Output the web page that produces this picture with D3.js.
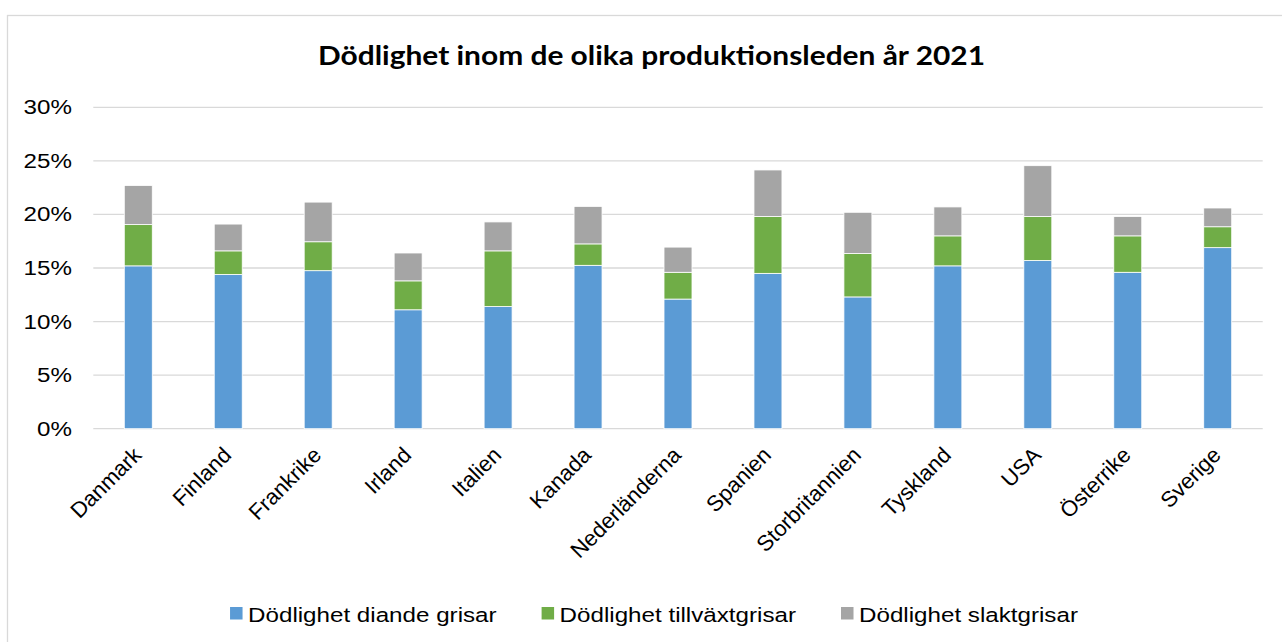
<!DOCTYPE html>
<html lang="sv">
<head>
  <meta charset="UTF-8">
  <title>Dödlighet inom de olika produktionsleden år 2021</title>
  <script src="https://d3js.org/d3.v7.min.js"></script>
  <style>
    body { margin: 0; background: #fff; }
    text { font-family: "Liberation Sans", Arial, sans-serif; fill: #000; }
  </style>
</head>
<body>
<script>
  // Data (percent)
  const countries = ['Danmark', 'Finland', 'Frankrike', 'Irland', 'Italien', 'Kanada', 'Nederländerna',
    'Spanien', 'Storbritannien', 'Tyskland', 'USA', 'Österrike', 'Sverige'];
  const diande =     [15.2, 14.4, 14.75, 11.1, 11.4, 15.25, 12.1, 14.5, 12.3, 15.2, 15.7, 14.6, 16.9];
  const tillvaxt =   [3.85, 2.2, 2.7, 2.7, 5.2, 2.0, 2.5, 5.3, 4.05, 2.8, 4.1, 3.4, 1.95];
  const slakt =      [3.65, 2.5, 3.7, 2.6, 2.7, 3.5, 2.35, 4.35, 3.85, 2.7, 4.75, 1.8, 1.75];
  const seriesNames = ['Dödlighet diande grisar', 'Dödlighet tillväxtgrisar', 'Dödlighet slaktgrisar'];
  const colors = ['#5B9BD5', '#70AD47', '#A5A5A5'];
  const yTicks = [0, 5, 10, 15, 20, 25, 30];

  const width = 1282, height = 642;
  const stretch = 1.24; // the picture's horizontal text is wider than plain Arial

  const svg = d3.select('body').append('svg')
    .attr('width', width)
    .attr('height', height);

  svg.append('rect').attr('width', width).attr('height', height).attr('fill', '#fff');
  // chart border
  svg.append('rect')
    .attr('x', 7.5).attr('y', 15.5)
    .attr('width', 1300).attr('height', 640)
    .attr('fill', 'none').attr('stroke', '#d9d9d9').attr('stroke-width', 1.3);

  const x = d3.scaleBand().domain(countries).range([93.3, 1262.7])
    .paddingInner(0.689).paddingOuter(0.3445);
  const y = d3.scaleLinear().domain([0, 30]).range([428.7, 107.3]);

  // gridlines
  svg.append('g').selectAll('line').data(yTicks).join('line')
    .attr('x1', 93.3).attr('x2', 1262.7)
    .attr('y1', d => y(d)).attr('y2', d => y(d))
    .attr('stroke', '#d9d9d9').attr('stroke-width', 1.3);

  // y labels
  svg.append('g').selectAll('text').data(yTicks).join('text')
    .attr('transform', d => `translate(72,${y(d) + 7}) scale(${stretch},1)`)
    .attr('text-anchor', 'end')
    .style('font-size', '19.5px')
    .text(d => d + '%');

  // stacked bars
  const rows = countries.map((c, i) => ({ country: c, s0: diande[i], s1: tillvaxt[i], s2: slakt[i] }));
  const stack = d3.stack().keys(['s0', 's1', 's2'])(rows);

  svg.append('g').selectAll('g').data(stack).join('g')
    .attr('fill', (d, i) => colors[i])
    .selectAll('rect').data(d => d).join('rect')
    .attr('x', d => x(d.data.country))
    .attr('width', x.bandwidth())
    .attr('y', d => y(d[1]))
    .attr('height', d => y(d[0]) - y(d[1]))
    .attr('stroke', '#fff').attr('stroke-width', 0.8);

  // x labels, rotated 45 degrees
  svg.append('g').selectAll('text').data(countries).join('text')
    .attr('transform', d => `translate(${x(d) + x.bandwidth() / 2 - 1},451) rotate(-45)`)
    .attr('text-anchor', 'end')
    .attr('dy', '0.35em')
    .style('font-size', '22px')
    .text(d => d);

  // title
  svg.append('text')
    .attr('x', 651.5).attr('y', 64.5)
    .attr('text-anchor', 'middle')
    .attr('textLength', 667).attr('lengthAdjust', 'spacingAndGlyphs')
    .style('font-family', 'Lato, "Open Sans", sans-serif')
    .style('font-weight', 'bold')
    .style('font-size', '26.5px')
    .text('Dödlighet inom de olika produktionsleden år 2021');

  // legend
  const legend = svg.append('g');
  let lx = 0;
  seriesNames.forEach((name, i) => {
    const g = legend.append('g').attr('transform', `translate(${lx},0)`);
    g.append('rect').attr('x', 0).attr('y', 607).attr('width', 12.5).attr('height', 12.5).attr('fill', colors[i]);
    const t = g.append('text')
      .attr('transform', `translate(18,621.5) scale(${stretch},1)`)
      .style('font-size', '19.5px')
      .text(name);
    const w = t.node().getComputedTextLength() * stretch;
    lx += 18 + w + 45;
  });
  const legendWidth = lx - 45;
  legend.attr('transform', `translate(${654 - legendWidth / 2},0)`);
</script>
</body>
</html>
